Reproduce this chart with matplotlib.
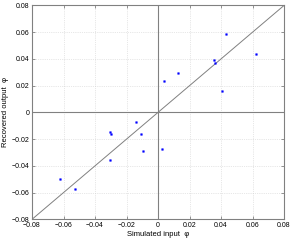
import matplotlib
matplotlib.use("Agg")
import matplotlib.pyplot as plt
import numpy as np

# simulated input vs recovered output
sim_phi = [0.0432, 0.062, 0.0354, 0.0364, 0.0127, 0.004, 0.0404, 0.0025,
           -0.0142, -0.0307, -0.030, -0.0108, -0.0095, -0.0303, -0.0624, -0.0527]
rec_phi = [0.0583, 0.044, 0.039, 0.0371, 0.0294, 0.0234, 0.0160, -0.0272,
           -0.0070, -0.0147, -0.0164, -0.0164, -0.0292, -0.0359, -0.050, -0.0573]
ticks = [-0.08, -0.06, -0.04, -0.02, 0, 0.02, 0.04, 0.06, 0.08]
tick_labels = ["\u22120.08", "\u22120.06", "\u22120.04", "\u22120.02", "0",
               "0.02", "0.04", "0.06", "0.08"]

plt.rcParams["font.family"] = "Liberation Sans"
fig = plt.figure(figsize=(2.99, 2.47), dpi=100)
ax = fig.add_axes([0.107, 0.112, 0.843, 0.866])

ax.plot([ticks[0], ticks[-1]], [ticks[0], ticks[-1]], color="#808080", lw=0.7)
ax.axhline(0, color="#808080", lw=0.8)
ax.axvline(0, color="#808080", lw=0.8)
ax.plot(sim_phi, rec_phi, "s", color="blue", ms=1.2, mec="blue", mew=0.3)

ax.set_xlim(ticks[0], ticks[-1])
ax.set_ylim(ticks[0], ticks[-1])
ax.set_xticks(ticks)
ax.set_xticklabels(tick_labels)
ax.set_yticks(ticks)
ax.set_yticklabels(tick_labels)
ax.grid(True, linestyle=":", color="#d0d0d0", lw=0.5)
ax.set_axisbelow(True)
ax.tick_params(direction="in", length=2.5, width=0.6, color="#808080",
               labelsize=5, pad=2, top=True, right=True)
for s in ax.spines.values():
    s.set_color("#808080")
    s.set_linewidth(0.8)

ax.set_xlabel("Simulated input  \u03c6", fontsize=5.5, labelpad=1)
ax.set_ylabel("Recovered output  \u03c6", fontsize=5.5, labelpad=2)

fig.savefig("out.png", dpi=100)
